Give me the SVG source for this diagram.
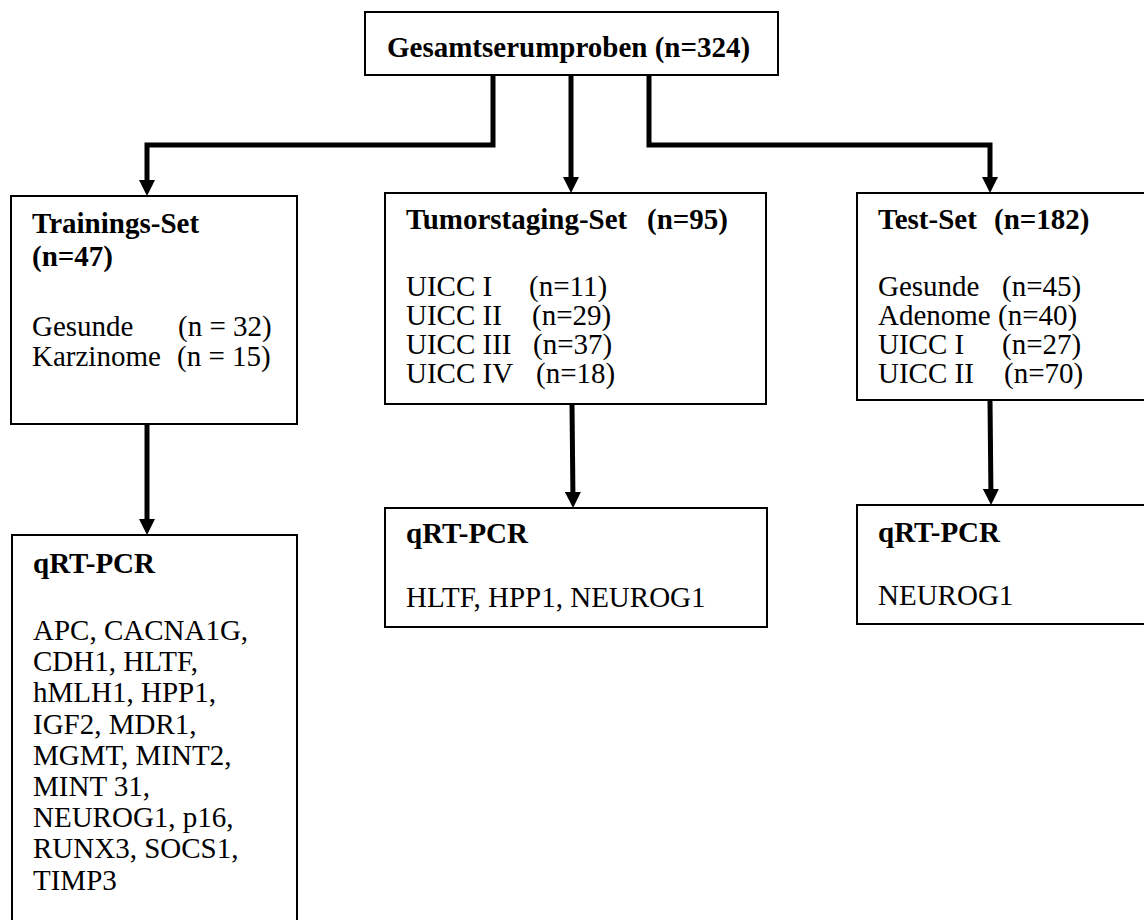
<svg xmlns="http://www.w3.org/2000/svg" width="1144" height="920" viewBox="0 0 1144 920">
<style>
.box{fill:#fff;stroke:#000;stroke-width:2}
.t{font-family:"Liberation Serif","Times New Roman",serif;font-size:29px;fill:#000}
.b{font-weight:bold}
.c{fill:none;stroke:#000;stroke-width:5}
</style>
<defs>
<marker id="ah" markerUnits="userSpaceOnUse" markerWidth="16" markerHeight="16" refX="10" refY="8" orient="auto">
<path d="M0,0 L16,8 L0,16 z" fill="#000"/>
</marker>
</defs>
<rect width="1144" height="920" fill="#fff"/>
<g id="connectors">
<path class="c" d="M493,75 V145 H147 V190" marker-end="url(#ah)"/>
<path class="c" d="M571,75 V187" marker-end="url(#ah)"/>
<path class="c" d="M649,75 V145 H990 V187" marker-end="url(#ah)"/>
<path class="c" d="M147,424 V529" marker-end="url(#ah)"/>
<path class="c" d="M572,404 L573,502" marker-end="url(#ah)"/>
<path class="c" d="M990,400 L991,499" marker-end="url(#ah)"/>
</g>
<g id="root">
<rect class="box" x="365" y="12" width="413" height="63"/>
<text class="t b" x="387" y="57">Gesamtserumproben (n=324)</text>
</g>
<g id="training">
<rect class="box" x="11" y="196" width="286" height="228"/>
<text class="t b" x="32" y="233">Trainings-Set<tspan x="32" y="266">(n=47)</tspan></text>
<text class="t" x="32" y="336">Gesunde<tspan x="178">(n = 32)</tspan><tspan x="32" y="366">Karzinome</tspan><tspan x="177">(n = 15)</tspan></text>
</g>
<g id="tumorstaging">
<rect class="box" x="385" y="193" width="381" height="211"/>
<text class="t b" x="406" y="229">Tumorstaging-Set<tspan x="647">(n=95)</tspan></text>
<text class="t" x="406" y="296">UICC I<tspan x="529">(n=11)</tspan><tspan x="406" y="325">UICC II</tspan><tspan x="532">(n=29)</tspan><tspan x="406" y="354">UICC III</tspan><tspan x="533">(n=37)</tspan><tspan x="406" y="383">UICC IV</tspan><tspan x="536">(n=18)</tspan></text>
</g>
<g id="test">
<rect class="box" x="857" y="193" width="300" height="207"/>
<text class="t b" x="878" y="229">Test-Set<tspan x="994">(n=182)</tspan></text>
<text class="t" x="878" y="296">Gesunde<tspan x="1002">(n=45)</tspan><tspan x="878" y="325">Adenome</tspan><tspan x="998">(n=40)</tspan><tspan x="878" y="354">UICC I</tspan><tspan x="1002">(n=27)</tspan><tspan x="878" y="383">UICC II</tspan><tspan x="1004">(n=70)</tspan></text>
</g>
<g id="pcr-training">
<rect class="box" x="12" y="535" width="285" height="400"/>
<text class="t b" x="33" y="573">qRT-PCR</text>
<text class="t" x="33" y="640">APC, CACNA1G,<tspan x="33" dy="31.2">CDH1, HLTF,</tspan><tspan x="33" dy="31.2">hMLH1, HPP1,</tspan><tspan x="33" dy="31.2">IGF2, MDR1,</tspan><tspan x="33" dy="31.2">MGMT, MINT2,</tspan><tspan x="33" dy="31.2">MINT 31,</tspan><tspan x="33" dy="31.2">NEUROG1, p16,</tspan><tspan x="33" dy="31.2">RUNX3, SOCS1,</tspan><tspan x="33" dy="31.2">TIMP3</tspan></text>
</g>
<g id="pcr-tumorstaging">
<rect class="box" x="385" y="508" width="382" height="119"/>
<text class="t b" x="406" y="543">qRT-PCR</text>
<text class="t" x="406" y="607">HLTF, HPP1, NEUROG1</text>
</g>
<g id="pcr-test">
<rect class="box" x="857" y="505" width="300" height="119"/>
<text class="t b" x="878" y="542">qRT-PCR</text>
<text class="t" x="878" y="605">NEUROG1</text>
</g>
</svg>
